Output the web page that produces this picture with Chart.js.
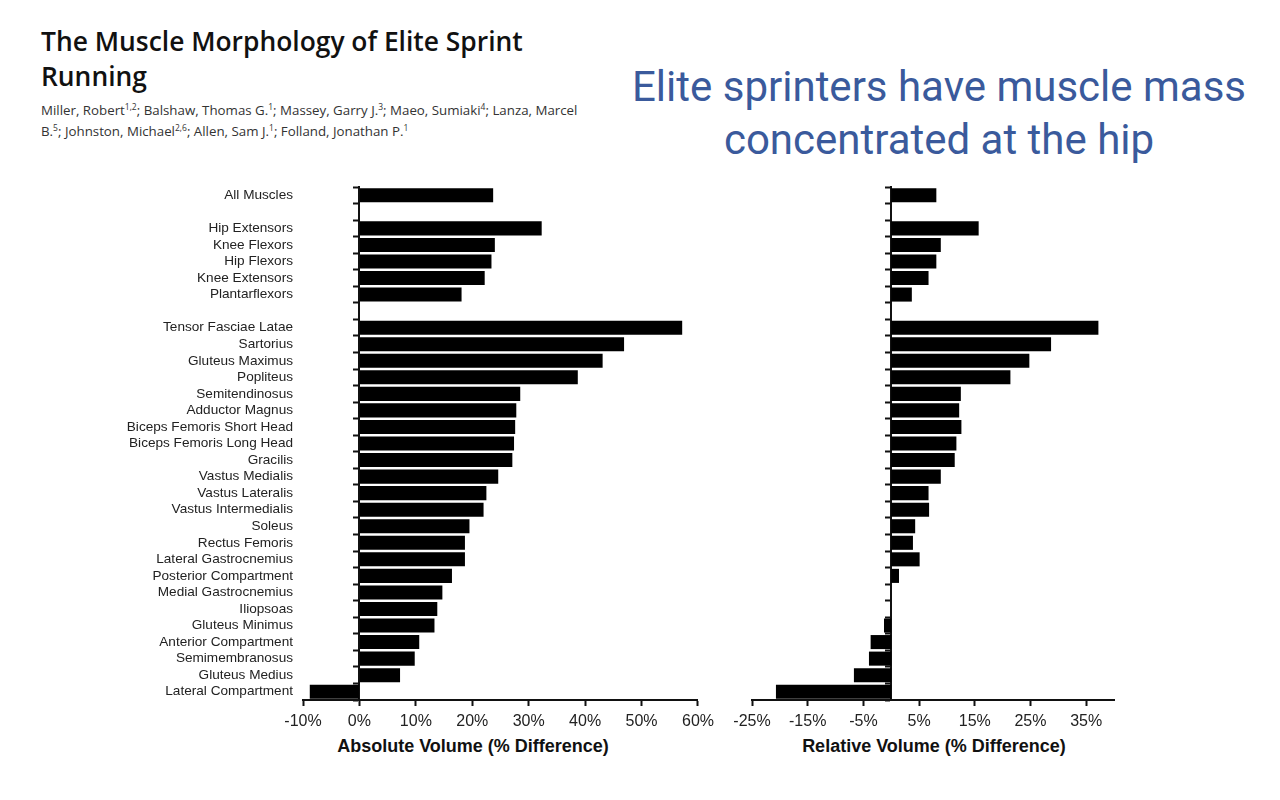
<!DOCTYPE html>
<html>
<head>
<meta charset="utf-8">
<script src="https://cdn.jsdelivr.net/npm/chart.js@4.4.1/dist/chart.umd.min.js"></script>
<style>
  html, body { margin: 0; padding: 0; background: #fff; width: 1280px; height: 800px; overflow: hidden; }
  .abs { position: absolute; }
  #title { left: 41px; top: 24px; font-family: "Open Sans", sans-serif; font-weight: 600; font-size: 26.4px; line-height: 35px; color: #111; }
  #authors { left: 41px; top: 100px; font-family: "Open Sans", sans-serif; font-size: 13.3px; line-height: 21px; color: #333; white-space: nowrap; }
  #authors sup { font-size: 8.5px; line-height: 0; vertical-align: 5px; }
  #headline { left: 600px; width: 678px; top: 60px; text-align: center; font-family: Roboto, sans-serif; font-size: 42px; line-height: 53px; color: #3a5a9c; white-space: nowrap; }
  .axtitle { font-family: "Liberation Sans", Arial, sans-serif; font-weight: bold; font-size: 18px; color: #111; white-space: nowrap; transform: translateX(-50%); top: 736px; }
  canvas { position: absolute; top: 0; }
</style>
</head>
<body>
<div id="title" class="abs">The Muscle Morphology of Elite Sprint<br>Running</div>
<div id="authors" class="abs">Miller, Robert<sup>1,2</sup>; Balshaw, Thomas G.<sup>1</sup>; Massey, Garry J.<sup>3</sup>; Maeo, Sumiaki<sup>4</sup>; Lanza, Marcel<br>B.<sup>5</sup>; Johnston, Michael<sup>2,6</sup>; Allen, Sam J.<sup>1</sup>; Folland, Jonathan P.<sup>1</sup></div>
<div id="headline" class="abs">Elite sprinters have muscle mass<br>concentrated at the hip</div>
<div class="abs axtitle" style="left:473px;">Absolute Volume (% Difference)</div>
<div class="abs axtitle" style="left:934px;">Relative Volume (% Difference)</div>

<div style="position:absolute;left:0;top:0;width:720px;height:800px;"><canvas id="c1"></canvas></div>
<div style="position:absolute;left:720px;top:0;width:560px;height:800px;"><canvas id="c2"></canvas></div>

<script>
// ---- data ----
const categories = [
  'All Muscles', '',
  'Hip Extensors', 'Knee Flexors', 'Hip Flexors', 'Knee Extensors', 'Plantarflexors', '',
  'Tensor Fasciae Latae', 'Sartorius', 'Gluteus Maximus', 'Popliteus', 'Semitendinosus',
  'Adductor Magnus', 'Biceps Femoris Short Head', 'Biceps Femoris Long Head', 'Gracilis',
  'Vastus Medialis', 'Vastus Lateralis', 'Vastus Intermedialis', 'Soleus', 'Rectus Femoris',
  'Lateral Gastrocnemius', 'Posterior Compartment', 'Medial Gastrocnemius', 'Iliopsoas',
  'Gluteus Minimus', 'Anterior Compartment', 'Semimembranosus', 'Gluteus Medius',
  'Lateral Compartment'
];
const absoluteVolume = [
  23.7, null,
  32.3, 24.0, 23.4, 22.2, 18.1, null,
  57.2, 46.9, 43.1, 38.7, 28.5,
  27.8, 27.6, 27.4, 27.1,
  24.6, 22.5, 22.0, 19.5, 18.7,
  18.7, 16.4, 14.7, 13.8,
  13.3, 10.6, 9.8, 7.2,
  -8.8
];
const relativeVolume = [
  8.1, null,
  15.7, 8.9, 8.1, 6.7, 3.7, null,
  37.2, 28.7, 24.8, 21.4, 12.5,
  12.2, 12.6, 11.7, 11.4,
  8.9, 6.7, 6.8, 4.3, 3.9,
  5.1, 1.4, 0, 0,
  -1.3, -3.7, -4.0, -6.7,
  -20.7
];
const absoluteTicks = [-10, 0, 10, 20, 30, 40, 50, 60];
const relativeTicks = [-25, -15, -5, 5, 15, 25, 35];

// ---- shared styling ----
const FONT = '"Liberation Sans", Arial, sans-serif';
const INK = '#111';
const TOP = 187, BOTTOM = 700;

function xAxis(min, max, tickValues) {
  return {
    type: 'linear', min: min, max: max,
    afterBuildTicks: s => { s.ticks = tickValues.map(v => ({ value: v })); },
    border: { display: true, color: INK, width: 2 },
    grid: { drawOnChartArea: false, drawTicks: true, tickLength: 6, tickWidth: 2, tickColor: INK },
    ticks: { color: '#222', font: { family: FONT, size: 16 }, padding: 6, maxRotation: 0, autoSkip: false,
             callback: v => v + '%' },
    afterFit: s => { s.height = 40; }
  };
}
function zeroAxis() {
  return {
    type: 'category', position: { x: 0 }, offset: true,
    border: { display: true, color: INK, width: 2 },
    grid: { offset: true, drawOnChartArea: false, drawTicks: true, tickLength: 5, tickWidth: 2, tickColor: INK },
    ticks: { display: false }
  };
}
function barDataset(values, axisID) {
  return {
    data: values, yAxisID: axisID,
    backgroundColor: '#000', borderWidth: 0,
    barPercentage: 0.85, categoryPercentage: 1.0
  };
}
const common = {
  indexAxis: 'y', responsive: true, maintainAspectRatio: false, animation: false,
  plugins: { legend: { display: false }, tooltip: { enabled: false }, title: { display: false } }
};

// ---- left chart: absolute volume ----
new Chart(document.getElementById('c1'), {
  type: 'bar',
  data: { labels: categories, datasets: [barDataset(absoluteVolume, 'y')] },
  options: Object.assign({}, common, {
    layout: { padding: { left: 0, right: 22, top: TOP, bottom: 800 - BOTTOM - 40 } },
    scales: {
      x: xAxis(-10, 60, absoluteTicks),
      y: {
        type: 'category', position: 'left', offset: true,
        border: { display: false }, grid: { display: false, drawTicks: false, tickLength: 0 },
        ticks: { color: '#222', font: { family: FONT, size: 13.6 }, padding: 10, autoSkip: false },
        afterFit: s => { s.width = 303; }
      },
      y2: zeroAxis()
    }
  })
});

// ---- right chart: relative volume ----
new Chart(document.getElementById('c2'), {
  type: 'bar',
  data: { labels: categories, datasets: [barDataset(relativeVolume, 'y')] },
  options: Object.assign({}, common, {
    layout: { padding: { left: 32, right: 560 - 394, top: TOP, bottom: 800 - BOTTOM - 40 } },
    scales: {
      x: xAxis(-25, 40, relativeTicks),
      y: zeroAxis()
    }
  })
});
</script>
</body>
</html>
